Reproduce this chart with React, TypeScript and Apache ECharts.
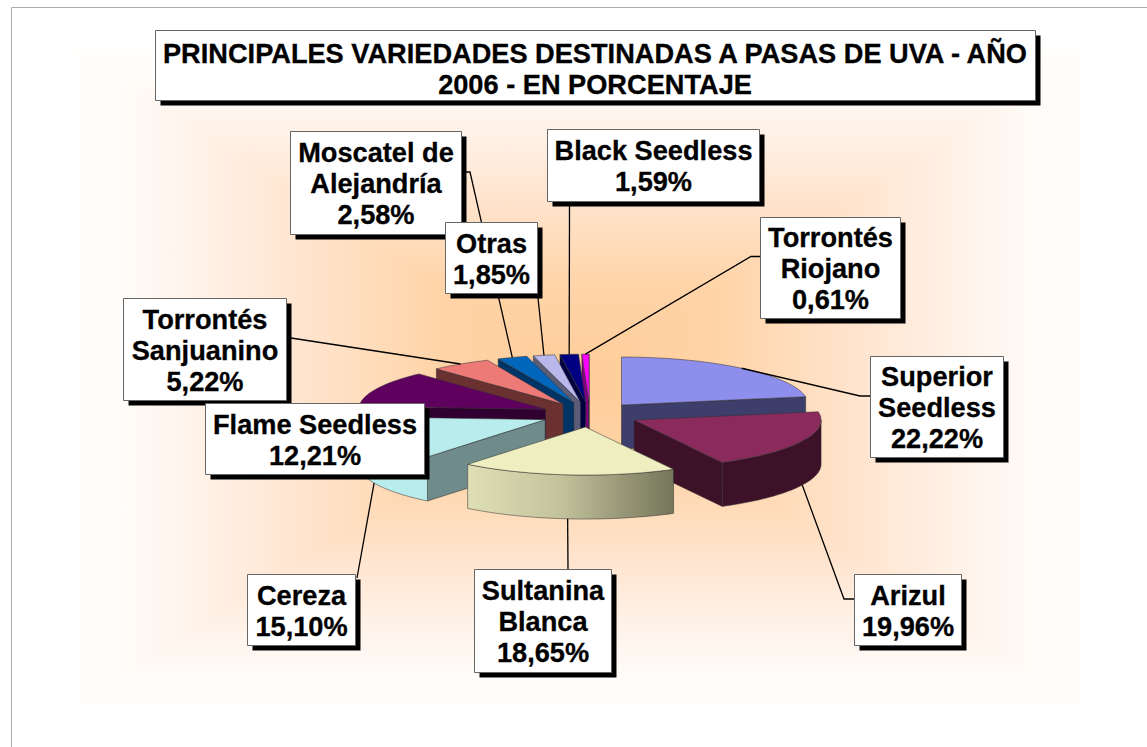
import React, { useEffect, useRef } from "react";
import * as echarts from "echarts";

const titleLines = "PRINCIPALES VARIEDADES DESTINADAS A PASAS DE UVA - AÑO\n2006 - EN PORCENTAJE";
const categories = [
  "Superior\nSeedless",
  "Arizul",
  "Sultanina\nBlanca",
  "Cereza",
  "Flame Seedless",
  "Torrontés\nSanjuanino",
  "Moscatel de\nAlejandría",
  "Otras",
  "Black Seedless",
  "Torrontés\nRiojano",
];
const values = [22.22, 19.96, 18.65, 15.1, 12.21, 5.22, 2.58, 1.85, 1.59, 0.61];
const topColors = ["#8e8eec", "#8b2b5d", "#eeeec0", "#b9ecec", "#5f005f", "#ee7a78", "#0066bb", "#b8b8ec", "#000080", "#ff00ff"];
const wallColors = ["#3e3e6c", "#3d1228", "#c4c49e", "#6f8b8b", "#300030", "#6b3030", "#003366", "#5c5c78", "#000040", "#800080"];
const arcColors = ["#3e3e6c", "#3d1228", "", "#b9ecec", "#300030", "#6b3030", "#003366", "#5c5c78", "#000040", "#800080"];

// painter's order for the exploded wedges, back to front
const drawOrder = [9, 8, 7, 6, 5, 4, 3, 0, 1, 2];
// stacking order of the label boxes
const boxOrder = [8, 9, 0, 1, 2, 3, 6, 7, 5, 4];

// layout: x0, y0, x1, y1 of every label box
const boxes = [
  [870.5, 356.5, 1003.5, 457.5],
  [854.5, 574.5, 961.5, 645.5],
  [474.5, 569.5, 611.5, 672.5],
  [247.5, 574.5, 355.5, 645.5],
  [205.5, 403.5, 424.5, 474.5],
  [123.5, 298.5, 286.5, 400.5],
  [290.5, 131.5, 461.5, 234.5],
  [445.5, 222.5, 537.5, 293.5],
  [547.5, 129.5, 759.5, 201.5],
  [760.5, 217.5, 900.5, 318.5],
];
// layout: where each leader line leaves its box (null: hidden behind the box)
const leaderStarts: (number[][] | null)[] = [
  [[870, 396], [860, 396]],
  [[854, 599], [844, 599]],
  [[568, 569]],
  [[357, 578]],
  null,
  [[291, 338]],
  [[462, 172], [470, 172]],
  [[538, 298]],
  [[569.5, 206]],
  [[760, 256.5], [751, 256.5]],
];

const CX = 590;
const CY = 414.6;
const RX = 187;
const RY = 48;
const DEPTH = 44;
const EXPLODE_X = 49;
const EXPLODE_Y = 12.5;
const FONT = '"Liberation Sans", Arial, sans-serif';
const FONT_SIZE = 27.2;

const total = values.reduce((a, b) => a + b, 0);
const rad = (d: number) => (d * Math.PI) / 180;
const slices = (() => {
  let acc = 0;
  return values.map((v) => {
    const start = acc;
    acc += (v / total) * 360;
    const end = acc;
    const mid = (start + end) / 2;
    const ax = CX + EXPLODE_X * Math.sin(rad(mid));
    const ay = CY - EXPLODE_Y * Math.cos(rad(mid));
    return { start, end, mid, ax, ay };
  });
})();

const rim = (s: { ax: number; ay: number }, deg: number, dz = 0): number[] => [
  s.ax + RX * Math.sin(rad(deg)),
  s.ay - RY * Math.cos(rad(deg)) + dz,
];

const arcPts = (s: any, a: number, b: number, dz = 0) => {
  const pts: number[][] = [];
  const n = Math.max(2, Math.ceil(Math.abs(b - a)));
  for (let k = 0; k <= n; k++) pts.push(rim(s, a + ((b - a) * k) / n, dz));
  return pts;
};

const edgeStroke = "rgba(50,50,50,0.75)";

function renderItem(_params: any, api: any) {
  const i = api.value(0);
  const s = slices[i];
  const children: any[] = [];
  const poly = (points: number[][], fill: any) => ({
    type: "polygon",
    shape: { points },
    style: { fill, stroke: edgeStroke, lineWidth: 0.7 },
  });
  const cut = (deg: number) => {
    const p = rim(s, deg);
    return poly(
      [[s.ax, s.ay], p, [p[0], p[1] + DEPTH], [s.ax, s.ay + DEPTH]],
      wallColors[i]
    );
  };
  // radial cut faces that look towards the viewer
  if (Math.sin(rad(s.start)) < 0) children.push(cut(s.start));
  if (Math.sin(rad(s.end)) > 0) children.push(cut(s.end));
  // outer wall on the front half
  const a = Math.max(s.start, 90);
  const b = Math.min(s.end, 270);
  if (b > a) {
    const fill = arcColors[i]
      ? arcColors[i]
      : new echarts.graphic.LinearGradient(0, 0, 1, 0, [
          { offset: 0, color: "#e0e0b6" },
          { offset: 0.45, color: "#c2c29c" },
          { offset: 1, color: "#75755a" },
        ]);
    children.push(poly([...arcPts(s, a, b), ...arcPts(s, b, a, DEPTH)], fill));
  }
  // top face
  children.push(poly([[s.ax, s.ay], ...arcPts(s, s.start, s.end)], topColors[i]));
  return { type: "group", children };
}

const leaderEnd = (i: number) => {
  const s = slices[i];
  const front = s.mid > 90 && s.mid < 270;
  return rim(s, s.mid, front ? DEPTH : 0);
};

const fmt = (v: number) => v.toFixed(2).replace(".", ",") + "%";

// rectangular "from centre" peach background
const BG = { x0: 12, y0: 8, x1: 1147, y1: 747, cx: 580, cy: 378 };
const bgStops = [
  { offset: 0, color: "#ffcc99" },
  { offset: 0.25, color: "#ffd4a8" },
  { offset: 0.5, color: "#ffe5d0" },
  { offset: 0.67, color: "#fff2e8" },
  { offset: 0.81, color: "#fffcf9" },
  { offset: 0.92, color: "#ffffff" },
  { offset: 1, color: "#ffffff" },
];
function bgTriangle(p: number[], q: number[], ex: number, ey: number) {
  const fill = new echarts.graphic.LinearGradient(BG.cx, BG.cy, ex, ey, bgStops, true);
  return {
    type: "polygon",
    z: 0,
    silent: true,
    shape: { points: [[BG.cx, BG.cy], p, q] },
    style: { fill, stroke: fill, lineWidth: 1 },
  };
}

function labelBox(box: number[], text: string, z2: number, textX: number, textY: number, lh: number) {
  const [x0, y0, x1, y1] = box;
  return [
    { type: "rect", z: 10, z2, silent: true, shape: { x: x0 + 5, y: y0 + 5, width: x1 - x0, height: y1 - y0 }, style: { fill: "#000" } },
    { type: "rect", z: 10, z2: z2 + 1, silent: true, shape: { x: x0, y: y0, width: x1 - x0, height: y1 - y0 }, style: { fill: "#fff", stroke: "#666", lineWidth: 1 } },
    {
      type: "text",
      z: 10,
      z2: z2 + 2,
      silent: true,
      x: textX,
      y: textY,
      style: {
        text,
        fill: "#000",
        stroke: "#000",
        lineWidth: 0.3,
        font: `bold ${FONT_SIZE}px ${FONT}`,
        lineHeight: lh,
        align: "center",
        verticalAlign: "middle",
      },
    },
  ];
}

export default function App() {
  const ref = useRef<HTMLDivElement>(null);
  useEffect(() => {
    document.body.style.margin = "0";
    const chart = echarts.init(ref.current!, undefined, { renderer: "svg" });
    const { x0, y0, x1, y1, cx, cy } = BG;
    const graphics: any[] = [
      bgTriangle([x0, y0], [x1, y0], cx, y0),
      bgTriangle([x1, y0], [x1, y1], x1, cy),
      bgTriangle([x1, y1], [x0, y1], cx, y1),
      bgTriangle([x0, y1], [x0, y0], x0, cy),
      { type: "line", z: 1, silent: true, shape: { x1: 11.5, y1: 7.5, x2: 1147, y2: 7.5 }, style: { stroke: "#aaa", lineWidth: 1 } },
      { type: "line", z: 1, silent: true, shape: { x1: 11.5, y1: 7.5, x2: 11.5, y2: 747 }, style: { stroke: "#aaa", lineWidth: 1 } },
    ];
    leaderStarts.forEach((st, i) => {
      if (!st) return;
      graphics.push({
        type: "polyline",
        z: 5,
        silent: true,
        shape: { points: [...st, leaderEnd(i)] },
        style: { stroke: "#000", lineWidth: 1.3, fill: "none" },
      });
    });
    graphics.push(...labelBox([155.5, 30.5, 1035.5, 100.5], titleLines, 0, 595, 69, 31));
    boxOrder.forEach((i, k) => {
      const b = boxes[i];
      graphics.push(
        ...labelBox(b, `${categories[i]}\n${fmt(values[i])}`, 10 + k * 3, (b[0] + b[2]) / 2, (b[1] + b[3]) / 2 + 0.5, 31)
      );
    });
    chart.setOption({
      animation: false,
      backgroundColor: "#ffffff",
      tooltip: { show: false },
      graphic: { elements: graphics },
      series: [
        {
          type: "custom",
          coordinateSystem: "none",
          silent: true,
          z: 3,
          renderItem,
          data: drawOrder.map((i) => ({ name: categories[i], value: [i, values[i]] })),
        },
      ],
    });
    return () => chart.dispose();
  }, []);
  return <div ref={ref} style={{ position: "fixed", left: 0, top: 0, width: 1147, height: 747 }} />;
}
